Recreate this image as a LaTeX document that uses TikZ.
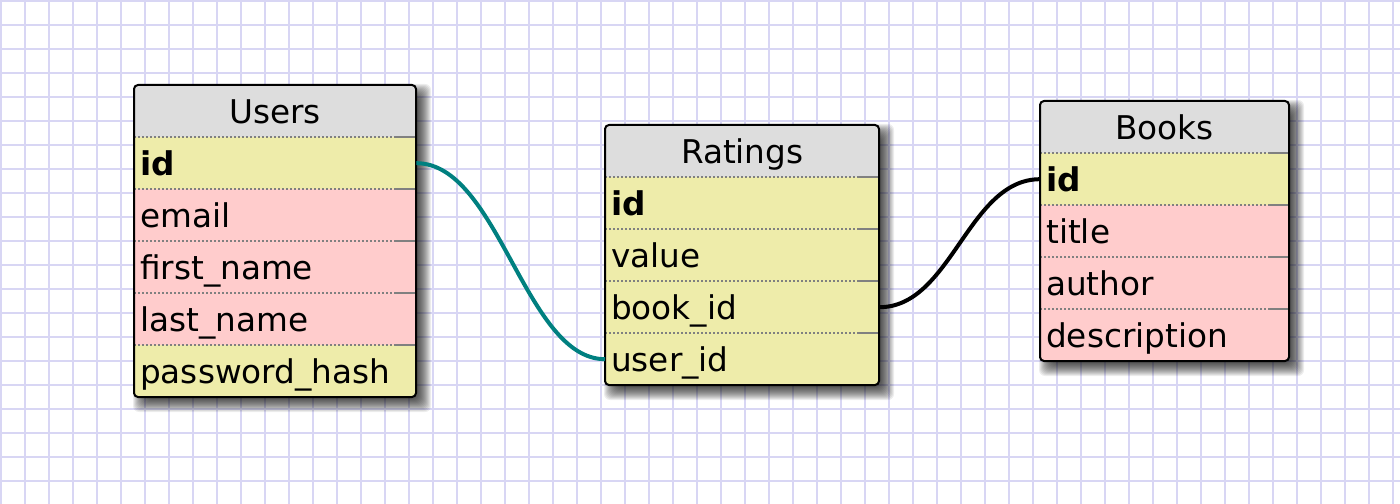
\documentclass[tikz,border=0pt]{standalone}
\usepackage{fontspec}
\setmainfont{DejaVu Sans}
\definecolor{gridc}{RGB}{216,214,244}
\definecolor{headc}{RGB}{221,221,221}
\definecolor{ylwc}{RGB}{238,236,170}
\definecolor{pnkc}{RGB}{255,204,204}
\definecolor{sepc}{RGB}{128,128,128}
\definecolor{tealc}{RGB}{0,128,128}
\tikzset{
  gridline/.style={draw=gridc, line width=2.2bp},
  cellbox/.style={rectangle, inner xsep=6bp, inner ysep=0pt, minimum height=52bp,
     text height=30bp, text depth=6bp, font=\fontsize{32.8}{39}\selectfont},
  headbox/.style={cellbox, fill=headc, align=center},
  rowbox/.style={cellbox, align=left},
  sepdot/.style={draw=sepc, line width=2bp, dash pattern=on 2bp off 2bp},
  sepsolid/.style={draw=sepc, line width=2bp},
  framebox/.style={draw=black, line width=2bp, rounded corners=4bp},
  shadowlayer/.style={fill=black, opacity=0.07, rounded corners=6bp},
  link/.style={line width=4bp},
}
% #1 prefix, #2 x1, #3 x2, #4 top, #5 bottom, #6 title, #7 rows (name/colour/label)
\newcommand\erdtable[7]{%
  \pgfmathsetmacro\tabw{#3-#2}%
  \pgfmathsetmacro\tabtw{#3-#2-12}%
  \foreach \rr in {-6,...,8}
    \fill[shadowlayer] ({#2+7-\rr},{#4+7-\rr}) rectangle ({#3+7+\rr},{#5+7+\rr});
  \begin{scope}
    \clip[rounded corners=4bp] (#2,#4) rectangle (#3,#5);
    \node[headbox, minimum width=\tabw bp, text width=\tabtw bp, anchor=north west] (#1-head) at (#2,#4) {#6};
    \foreach \nm/\col/\lbl [count=\ii from 0] in {#7} {
      \node[rowbox, fill=\col, text width=\tabtw bp, anchor=north west] (#1-\nm) at (#2,{#4+52+52*\ii}) {\lbl};
      \draw[sepdot] (#2,{#4+52+52*\ii}) -- ({#3-20},{#4+52+52*\ii});
      \draw[sepsolid] ({#3-20},{#4+52+52*\ii}) -- (#3,{#4+52+52*\ii});
    }
  \end{scope}
  \draw[framebox] (#2,#4) rectangle (#3,#5);
}
\begin{document}
\begin{tikzpicture}[x=1bp,y=-1bp]
\useasboundingbox (0,0) rectangle (1400,504);
\fill[white] (0,0) rectangle (1400,504);
\foreach \i in {0,...,58} \draw[gridline] ({1+24*\i},0) -- ({1+24*\i},504);
\foreach \j in {0,...,21} \draw[gridline] (0,{1+24*\j}) -- (1400,{1+24*\j});

\erdtable{users}{134}{416}{85}{397}{Users}{id/ylwc/\textbf{id}, email/pnkc/email, first/pnkc/first\_name, last/pnkc/last\_name, pass/ylwc/password\_hash}
\erdtable{ratings}{605}{879}{125}{385}{Ratings}{id/ylwc/\textbf{id}, value/ylwc/value, book/ylwc/book\_id, user/ylwc/user\_id}
\erdtable{books}{1040}{1289}{101}{361}{Books}{id/ylwc/\textbf{id}, title/pnkc/title, author/pnkc/author, desc/pnkc/description}

\draw[link, draw=tealc] (users-id.east) .. controls +(82,0) and +(-80,0) .. (ratings-user.west);
\draw[link, draw=black] (ratings-book.east) .. controls +(72,0) and +(-72,0) .. (books-id.west);
\end{tikzpicture}
\end{document}
